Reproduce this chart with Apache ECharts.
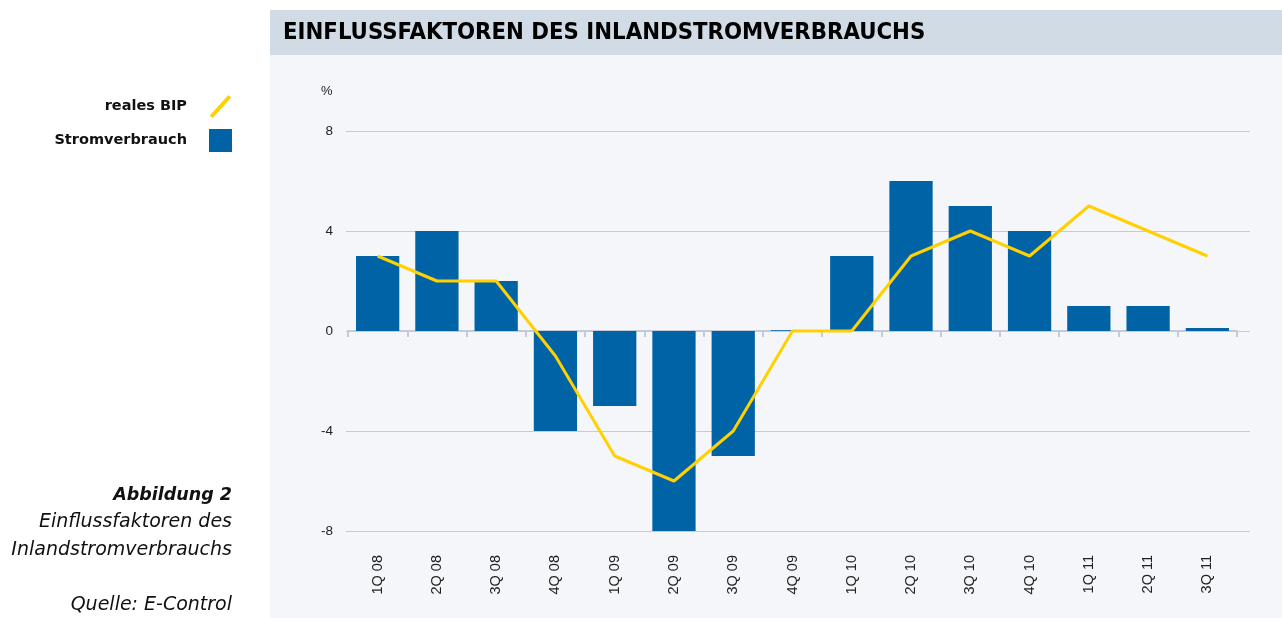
<!DOCTYPE html>
<html><head><meta charset="utf-8">
<script src="https://cdn.jsdelivr.net/npm/echarts@6/dist/echarts.min.js"></script>
<style>html,body{margin:0;padding:0;background:#fff}#c{width:1282px;height:618px}</style>
</head><body><div id="c"></div>
<script>
const categories = ['1Q 08','2Q 08','3Q 08','4Q 08','1Q 09','2Q 09','3Q 09','4Q 09','1Q 10','2Q 10','3Q 10','4Q 10','1Q 11','2Q 11','3Q 11'];
const stromverbrauch = [3, 4, 2, -4, -3, -8, -5, 0.03, 3, 6, 5, 4, 1, 1, 0.12];
const realesBIP = [3, 2, 2, -1, -5, -6, -4, 0, 0, 3, 4, 3, 5, 4, 3];
const yTicks = { min: -8, max: 8, interval: 4 };

const chart = echarts.init(document.getElementById('c'), null, {renderer: 'canvas'});
const font = 'Liberation Sans, Arial, sans-serif';
const capFont = '"DejaVu Sans", sans-serif';
chart.setOption({
  animation: false,
  backgroundColor: '#ffffff',
  graphic: [
    {type: 'rect', z: -10, shape: {x: 270, y: 10, width: 1012, height: 608}, style: {fill: '#f4f6fa'}},
    {type: 'rect', z: -9, shape: {x: 270, y: 10, width: 1012, height: 45}, style: {fill: '#d0dbe6'}},
    {type: 'text', left: 283, top: 21, style: {text: 'EINFLUSSFAKTOREN DES INLANDSTROMVERBRAUCHS', font: 'bold 23.7px "Liberation Sans Narrow", "DejaVu Sans Condensed", sans-serif', fill: '#000'}},
    {type: 'text', left: 321, top: 85, style: {text: '%', font: '13px ' + font, fill: '#222'}},
    {type: 'text', right: 1282 - 232, top: 486, style: {text: 'Abbildung 2', font: 'bold oblique 17.5px ' + capFont, fill: '#111', align: 'right'}},
    {type: 'text', right: 1282 - 232, top: 513, style: {text: 'Einflussfaktoren des', font: 'oblique 19px ' + capFont, fill: '#111', align: 'right'}},
    {type: 'text', right: 1282 - 232, top: 541, style: {text: 'Inlandstromverbrauchs', font: 'oblique 19px ' + capFont, fill: '#111', align: 'right'}},
    {type: 'text', right: 1282 - 232, top: 596, style: {text: 'Quelle: E-Control', font: 'oblique 19px ' + capFont, fill: '#111', align: 'right'}}
  ],
  legend: {
    orient: 'vertical', right: 1282 - 232, top: 95, align: 'right', itemGap: 11, padding: 0,
    itemWidth: 23, itemHeight: 23,
    textStyle: {fontFamily: capFont, fontSize: 14.5, fontWeight: 'bold', color: '#111', padding: [0, 17, 0, 0]},
    data: [
      {name: 'reales BIP', icon: 'path://M0,21 L19,0 L22,2.5 L3,23.5 Z', itemStyle: {color: '#ffd100'}},
      {name: 'Stromverbrauch', icon: 'rect', itemStyle: {color: '#0063a6'}}
    ]
  },
  grid: [
    {left: 348, right: 45, top: 131, bottom: 87, containLabel: false},
    {left: 346, right: 32, top: 131, bottom: 87, containLabel: false}
  ],
  xAxis: [
    {type: 'category', data: categories, position: 'bottom', gridIndex: 0,
     axisLine: {show: false, onZero: false}, axisTick: {show: false},
     axisLabel: {rotate: 90, margin: 24, fontFamily: font, fontSize: 14.5, color: '#222'}},
    {type: 'category', data: categories, position: 'bottom', gridIndex: 0,
     axisLine: {show: true, onZero: true, lineStyle: {color: '#c3cbdb', width: 2}},
     axisTick: {show: true, length: 6, lineStyle: {color: '#c3cbdb', width: 2}},
     axisLabel: {show: false}},
    {type: 'category', data: categories, gridIndex: 1, show: false}
  ],
  yAxis: [
    {type: 'value', min: yTicks.min, max: yTicks.max, interval: yTicks.interval, gridIndex: 0,
     axisLine: {show: false}, axisTick: {show: false},
     axisLabel: {margin: 15, fontFamily: font, fontSize: 13.5, color: '#222'},
     splitLine: {show: false}},
    {type: 'value', min: yTicks.min, max: yTicks.max, interval: yTicks.interval, gridIndex: 1,
     axisLine: {show: false}, axisTick: {show: false}, axisLabel: {show: false},
     splitLine: {lineStyle: {color: '#c3cbdb', width: 1}}}
  ],
  series: [
    {name: 'Stromverbrauch', type: 'bar', data: stromverbrauch, barWidth: '73%', xAxisIndex: 0, yAxisIndex: 0,
     itemStyle: {color: '#0063a6'}, z: 2},
    {name: 'reales BIP', type: 'line', data: realesBIP, xAxisIndex: 0, yAxisIndex: 0, showSymbol: false, symbol: 'none',
     lineStyle: {color: '#ffd100', width: 3}, itemStyle: {color: '#ffd100'}, z: 3}
  ]
});
</script></body></html>
